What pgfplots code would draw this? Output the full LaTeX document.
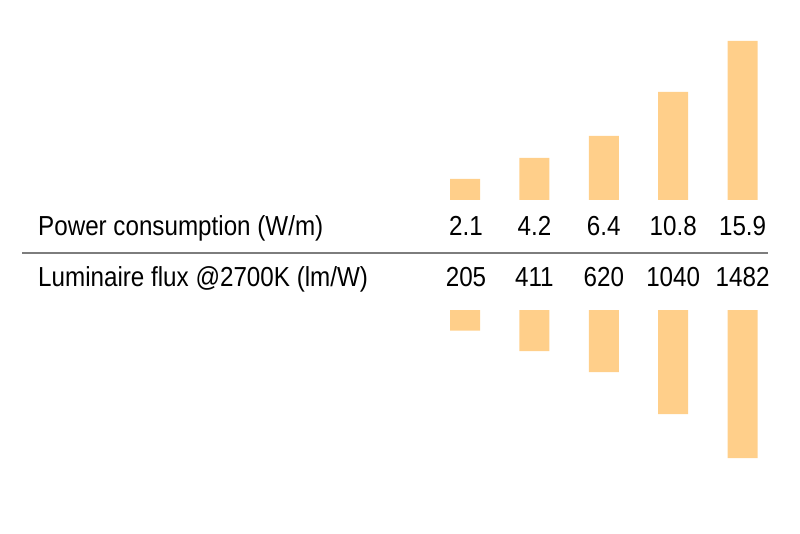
\documentclass[border=0pt]{standalone}
\usepackage{pgfplots}
\pgfplotsset{compat=1.18}
\usepackage{fontspec}
\setmainfont{Liberation Sans}[FakeStretch=0.88]
\definecolor{barorange}{RGB}{255,207,138}
\definecolor{rulegray}{RGB}{125,125,125}

% power consumption (W/m) and luminaire flux (lm/W), one row per product
\pgfplotstableread{
i power flux
0 2.1  205
1 4.2  411
2 6.4  620
3 10.8 1040
4 15.9 1482
}\datatable

\pgfplotsset{
  base/.style={
    at={(0pt,0pt)}, anchor=south west,
    scale only axis, width=800pt, height=533pt,
    xmin=-6.700, xmax=4.827,
    hide axis, clip=false,
    ybar, bar width=30pt,
  },
}

\begin{document}
\fontsize{27.5}{32}\selectfont
\begin{tikzpicture}
  % upper bars: power, 10 px per W/m, base at py=200
  \begin{axis}[base, ymin=-33.3, ymax=20]
    \addplot[draw=none, fill=barorange] table[x=i, y=power] {\datatable};
  \end{axis}
  % lower bars: flux, 0.1 px per lm, top at py=310
  \begin{axis}[base, y dir=reverse, ymin=-3100, ymax=2230]
    \addplot[draw=none, fill=barorange] table[x=i, y=flux] {\datatable};
  \end{axis}

  \draw[rulegray, line width=1.8pt] (22pt,280.3pt) -- (768pt,280.3pt);

  \node[anchor=base west, inner sep=0pt] at (38pt,297pt) {Power consumption (W/m)};
  \node[anchor=base west, inner sep=0pt] at (38pt,246pt) {Luminaire flux @2700K (lm/W)};

  \foreach \xc/\p/\f in {466/2.1/205, 534.4/4.2/411, 603.8/6.4/620, 673.2/10.8/1040, 742.6/15.9/1482}{
    \node[anchor=base, inner sep=0pt] at (\xc pt,297pt) {\p};
    \node[anchor=base, inner sep=0pt] at (\xc pt,246pt) {\f};
  }

  \pgfresetboundingbox
  \path (0pt,0pt) rectangle (800pt,533pt);
\end{tikzpicture}
\end{document}
